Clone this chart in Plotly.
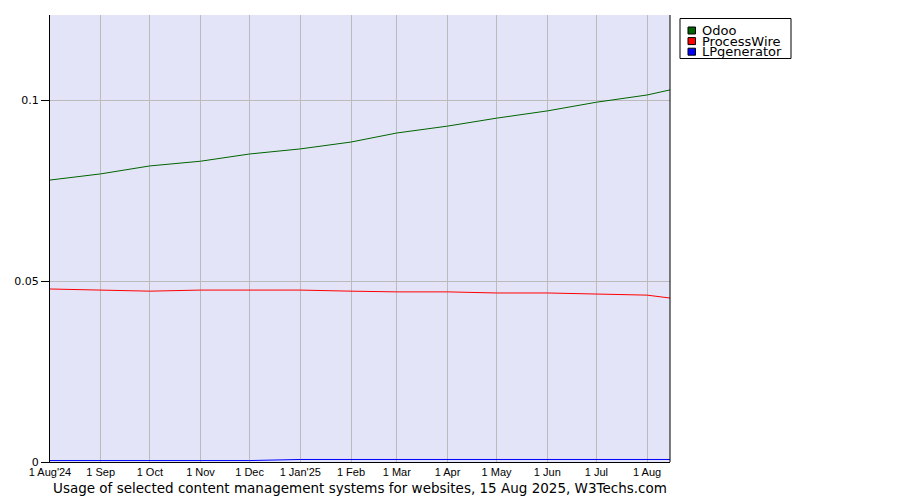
import plotly.graph_objects as go

dates = ["2024-08-01", "2024-09-01", "2024-10-01", "2024-11-01", "2024-12-01",
         "2025-01-01", "2025-02-01", "2025-03-01", "2025-04-01", "2025-05-01",
         "2025-06-01", "2025-07-01", "2025-08-01", "2025-08-15"]
odoo = [0.0779, 0.0796, 0.0818, 0.0831, 0.0851, 0.0865, 0.0884, 0.0909,
        0.0928, 0.0950, 0.0970, 0.0994, 0.1014, 0.1028]
processwire = [0.0478, 0.0475, 0.0472, 0.0475, 0.0475, 0.0475, 0.0472, 0.0470,
               0.0470, 0.0467, 0.0467, 0.0464, 0.0461, 0.0453]
lpgenerator = [0.0004, 0.0004, 0.0004, 0.0004, 0.0004, 0.0007, 0.0007, 0.0007,
               0.0007, 0.0007, 0.0007, 0.0007, 0.0007, 0.0007]

series_names = ["Odoo", "ProcessWire", "LPgenerator"]
series_colors = ["#006400", "#ff0000", "#0000ff"]

tick_vals = ["2024-08-01", "2024-09-01", "2024-10-01", "2024-11-01", "2024-12-01",
             "2025-01-01", "2025-02-01", "2025-03-01", "2025-04-01", "2025-05-01",
             "2025-06-01", "2025-07-01", "2025-08-01"]
tick_text = ["1 Aug'24", "1 Sep", "1 Oct", "1 Nov", "1 Dec", "1 Jan'25", "1 Feb",
             "1 Mar", "1 Apr", "1 May", "1 Jun", "1 Jul", "1 Aug"]

# page body has an 8px margin, so the figure is offset by 8px
OFF = 8
W, H = 900, 500
PL, PR, PT, PB = 50, 670, 15, 462  # plot area in page pixels
L = PL - OFF
T = PT - OFF
R = W - (PR - OFF)
B = H - (PB - OFF)
pw, ph = PR - PL, PB - PT

def px(x):
    return (x - PL) / pw

def py(y):
    return (PB - y) / ph

fig = go.Figure()
for name, vals, col in zip(series_names, [odoo, processwire, lpgenerator], series_colors):
    fig.add_trace(go.Scatter(x=dates, y=vals, name=name, mode="lines",
                             line=dict(color=col, width=1), showlegend=False))

shapes = []
annotations = []
# legend box
shapes.append(dict(type="rect", xref="paper", yref="paper",
                   x0=px(680), x1=px(791), y0=py(58.5), y1=py(18.5),
                   line=dict(color="black", width=1), fillcolor="white", layer="above"))
for i, (name, col) in enumerate(zip(series_names, series_colors)):
    cy = 30.5 + i * 10.6
    shapes.append(dict(type="rect", xref="paper", yref="paper",
                       x0=px(688), x1=px(695.5), y0=py(cy + 3.5), y1=py(cy - 3.5),
                       line=dict(color="black", width=1), fillcolor=col, layer="above"))
    annotations.append(dict(text=name, xref="paper", yref="paper",
                            x=px(700), y=py(cy), xanchor="left", yanchor="middle",
                            showarrow=False,
                            font=dict(family="DejaVu Sans", size=13, color="black")))
# right border
shapes.append(dict(type="line", xref="paper", yref="paper", x0=1, x1=1, y0=0, y1=1,
                   line=dict(color="black", width=1)))

annotations.append(dict(text="Usage of selected content management systems for websites, 15 Aug 2025, W3Techs.com",
                        xref="paper", yref="paper", x=0.5, y=py(488),
                        xanchor="center", yanchor="middle", showarrow=False,
                        font=dict(family="DejaVu Sans", size=13.5, color="black")))

fig.update_layout(
    width=W, height=H,
    margin=dict(l=L, r=R, t=T, b=B, autoexpand=False),
    paper_bgcolor="white",
    plot_bgcolor="#e4e4f8",
    font=dict(family="DejaVu Sans", size=12, color="black"),
    showlegend=False,
    shapes=shapes,
    annotations=annotations,
)
fig.update_xaxes(
    type="date", range=["2024-08-01", "2025-08-15"],
    tickvals=tick_vals, ticktext=tick_text,
    tickfont=dict(family="Liberation Sans", size=11, color="black"),
    showgrid=True, gridcolor="#bbbbbb", gridwidth=1,
    showline=True, linecolor="black", linewidth=1,
    ticks="", zeroline=False, automargin=False,
)
fig.update_yaxes(
    range=[0, 0.1235],
    tickvals=[0, 0.05, 0.1], ticktext=["0", "0.05", "0.1"],
    tickfont=dict(family="DejaVu Sans", size=11, color="black"),
    showgrid=True, gridcolor="#bbbbbb", gridwidth=1,
    showline=True, linecolor="black", linewidth=1,
    ticks="outside", ticklen=8, tickcolor="black",
    zeroline=False, automargin=False,
)

fig.write_html("out.html")
